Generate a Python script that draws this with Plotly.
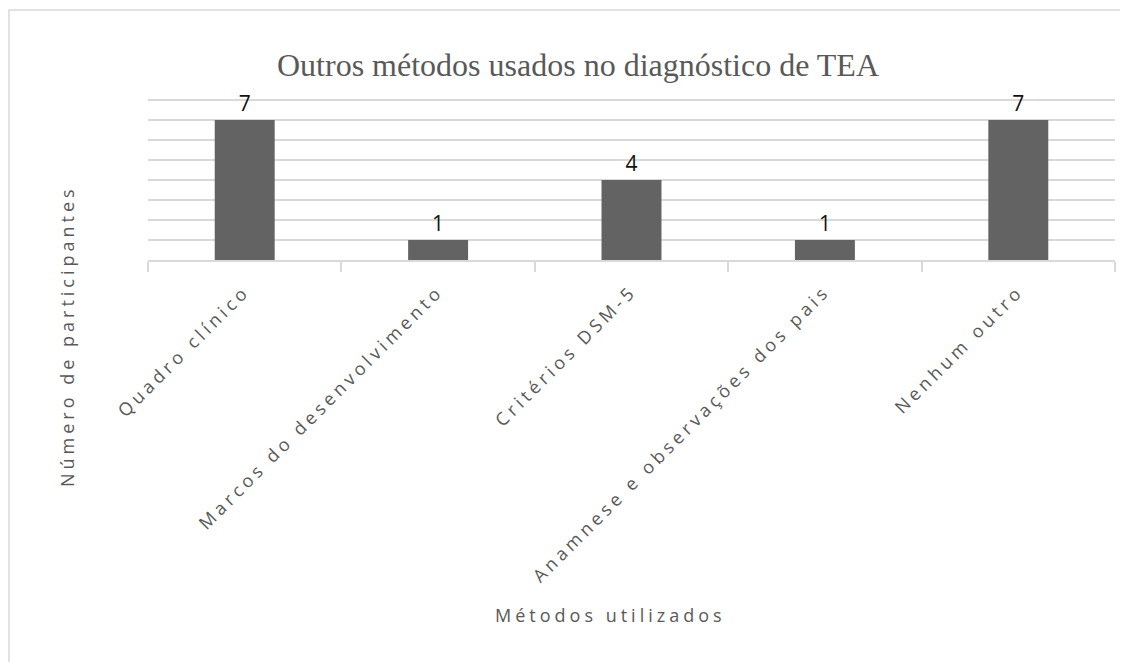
import plotly.graph_objects as go

categories = ["Quadro clínico", "Marcos do desenvolvimento", "Critérios DSM-5",
              "Anamnese e observações dos pais", "Nenhum outro"]
values = [7, 1, 4, 1, 7]

title_text = "Outros métodos usados no diagnóstico de TEA"
x_title = "Métodos utilizados"
y_title = "Número de participantes"

# page body has an 8px margin; figure sized so it fills the window exactly
OFF = 8
W, H = 1120, 654
L, R, T, B = 140, 13, 90, 402
pw, ph = W - L - R, H - T - B

def px_x(xs):
    return (xs - OFF - L) / pw

def px_y(ys):
    return (H - B - (ys - OFF)) / ph

def spaced(s, sp=4):
    return f'<span style="letter-spacing:{sp}px">{s}</span>'

grey = "#595959"
label_font = dict(family="Open Sans", size=18, color=grey)

fig = go.Figure(go.Bar(
    x=categories, y=values,
    marker=dict(color="#636363", line=dict(width=0)),
    text=[str(v) for v in values], textposition="outside",
    textfont=dict(family="Open Sans", size=21, color="#111111"),
    cliponaxis=False, hoverinfo="skip",
))

fig.update_layout(
    width=W, height=H, autosize=False,
    margin=dict(l=L, r=R, t=T, b=B),
    paper_bgcolor="white", plot_bgcolor="white",
    bargap=0.69, showlegend=False,
    xaxis=dict(type="category", tickson="boundaries", ticks="outside", ticklen=10,
               tickcolor="#d9d9d9", tickwidth=1.5, showline=True, linecolor="#d9d9d9",
               linewidth=1.5, showgrid=False, tickangle=-45, tickfont=label_font,
               ticklabelstandoff=12,
               tickmode="array", tickvals=categories,
               ticktext=[spaced(c) for c in categories], fixedrange=True),
    yaxis=dict(range=[0, 8.1], dtick=1, tick0=0, showgrid=True, gridcolor="#d9d9d9",
               gridwidth=1.5, showticklabels=False, zeroline=False, showline=False,
               ticks="", fixedrange=True),
    annotations=[
        dict(text=title_text, x=px_x(578), y=px_y(65), xref="paper", yref="paper",
             xanchor="center", yanchor="middle", showarrow=False,
             font=dict(family="Liberation Serif", size=32, color=grey)),
        dict(text=spaced(y_title), x=px_x(67), y=px_y(336), xref="paper", yref="paper",
             xanchor="center", yanchor="middle", showarrow=False, textangle=-90,
             font=label_font),
        dict(text=spaced(x_title), x=px_x(610), y=px_y(615), xref="paper", yref="paper",
             xanchor="center", yanchor="middle", showarrow=False, font=label_font),
    ],
    shapes=[dict(type="rect", xref="paper", yref="paper",
                 x0=px_x(9), y0=px_y(680), x1=px_x(1140), y1=px_y(10),
                 line=dict(color="#d9d9d9", width=1.5), layer="below")],
)

fig.write_html("out.html")
